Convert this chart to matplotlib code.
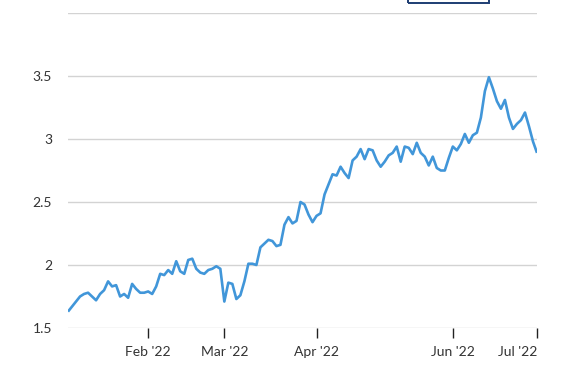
import matplotlib
matplotlib.use("Agg")
import matplotlib.pyplot as plt
from matplotlib.patches import Rectangle
import numpy as np

plt.rcParams['font.family'] = ['Lato', 'DejaVu Sans']

# daily values, one list per month (trading days shown in the chart)
jan = [1.63, 1.67, 1.71, 1.75, 1.77, 1.78, 1.75, 1.72, 1.77, 1.80,
       1.87, 1.83, 1.84, 1.75, 1.77, 1.74, 1.85, 1.81, 1.78, 1.78]
feb = [1.79, 1.77, 1.83, 1.93, 1.92, 1.96, 1.93, 2.03, 1.95, 1.93,
       2.04, 2.05, 1.97, 1.94, 1.93, 1.96, 1.97, 1.99, 1.97]
mar = [1.71, 1.86, 1.85, 1.73, 1.76, 1.87, 2.01, 2.01, 2.00, 2.14,
       2.17, 2.20, 2.19, 2.15, 2.16, 2.32, 2.38, 2.33, 2.35, 2.50,
       2.48, 2.40, 2.34]
apr_may = [2.39, 2.41, 2.56, 2.64, 2.72, 2.71, 2.78, 2.73, 2.69, 2.83,
           2.86, 2.92, 2.84, 2.92, 2.91, 2.83, 2.78, 2.82, 2.87, 2.89,
           2.94, 2.82, 2.94, 2.93, 2.88, 2.97, 2.89, 2.86, 2.79, 2.86,
           2.77, 2.75, 2.75, 2.85]
jun = [2.94, 2.91, 2.96, 3.04, 2.97, 3.03, 3.05, 3.17, 3.38, 3.49,
       3.40, 3.30, 3.24, 3.31, 3.17, 3.08, 3.12, 3.15, 3.21, 3.10, 2.98]
jul = [2.89]

months = [jan, feb, mar, apr_may, jun, jul]
month_labels = ["Jan '22", "Feb '22", "Mar '22", "Apr '22", "Jun '22", "Jul '22"]
y_ticks = [1.5, 2, 2.5, 3, 3.5, 4]
y_labels = ["1.5", "2", "2.5", "3", "3.5", ""]

values = np.concatenate(months)
starts = np.cumsum([0] + [len(m) for m in months[:-1]])

fig = plt.figure(figsize=(5.73, 3.73), dpi=100)
ax = fig.add_axes([68 / 573, 45 / 373, 469 / 573, 315 / 373])

ax.plot(np.arange(len(values)), values, color='#4196d9', lw=1.9,
        solid_joinstyle='round', solid_capstyle='butt')

ax.set_xlim(0, len(values) - 1)
ax.set_ylim(1.5, 4.0)
ax.set_yticks(y_ticks, y_labels)
ax.set_xticks(starts[1:], month_labels[1:])

ax.yaxis.grid(True, color='#d3d3d3', lw=1)
ax.set_axisbelow(True)
for s in ax.spines.values():
    s.set_visible(False)

ax.tick_params(axis='y', length=0, pad=11.5, labelsize=10, labelcolor='#333333')
ax.tick_params(axis='x', length=7, width=1, color='#222222', pad=6,
               labelsize=10, labelcolor='#333333')
# last label kept inside the plot, like the original
ax.get_xticklabels()[-1].set_horizontalalignment('right')

# legend box cut off at the top of the picture
fig.patches.append(Rectangle((408 / 573, 370.5 / 373), 81 / 573, 0.1,
                             transform=fig.transFigure, fill=False,
                             edgecolor='#1d3d73', lw=1.4))

fig.savefig('out.png', dpi=100)
